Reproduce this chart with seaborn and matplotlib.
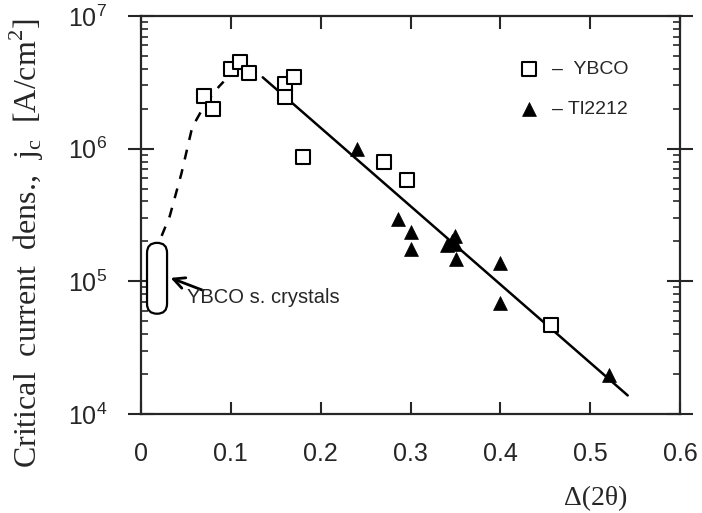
import matplotlib
matplotlib.use("Agg")
import matplotlib.pyplot as plt
import matplotlib.ticker as mticker
from matplotlib.patches import FancyBboxPatch
import seaborn as sns
import pandas as pd

# YBCO films (open squares)
ybco_dtheta = [0.070, 0.080, 0.100, 0.110, 0.120, 0.160, 0.170, 0.160, 0.180, 0.270, 0.296, 0.456]
ybco_jc = [2.5e6, 2.0e6, 4.0e6, 4.5e6, 3.7e6, 3.05e6, 3.45e6, 2.45e6, 8.6e5, 8.0e5, 5.8e5, 4.7e4]

# Tl2212 films (filled triangles)
tl_dtheta = [0.240, 0.286, 0.300, 0.300, 0.341, 0.346, 0.350, 0.350, 0.351, 0.400, 0.400, 0.521]
tl_jc = [1.0e6, 2.95e5, 2.35e5, 1.75e5, 1.88e5, 2.0e5, 2.2e5, 1.9e5, 1.48e5, 1.38e5, 6.9e4, 1.97e4]

# solid fit line and dashed guide to the eye
fit_dtheta = [0.1355, 0.5418]
fit_jc = [3.45e6, 1.38e4]
guide_dtheta = [0.023, 0.032, 0.045, 0.057, 0.072, 0.087, 0.092]
guide_jc = [2.2e5, 3.1e5, 6.5e5, 1.45e6, 2.2e6, 2.95e6, 3.2e6]

# single crystal range
sc_dtheta = [0.0067, 0.029]
sc_jc = [5.7e4, 1.95e5]

xticks = [0, 0.1, 0.2, 0.3, 0.4, 0.5, 0.6]
xtick_labels = ["0", "0.1", "0.2", "0.3", "0.4", "0.5", "0.6"]

sns.set_style("ticks")
plt.rcParams["font.family"] = ["Liberation Sans", "DejaVu Sans"]
serif = ["Liberation Serif", "DejaVu Serif"]

fig = plt.figure(figsize=(7.02, 5.13), dpi=100)
ax = fig.add_axes([141 / 702, 1 - 414 / 513, 539 / 702, 398 / 513])

ybco = pd.DataFrame({"dtheta": ybco_dtheta, "jc": ybco_jc})
tl = pd.DataFrame({"dtheta": tl_dtheta, "jc": tl_jc})

sns.lineplot(x=fit_dtheta, y=fit_jc, ax=ax, color="black", linewidth=1.8, zorder=2)
sns.lineplot(x=guide_dtheta, y=guide_jc, ax=ax, color="black", linewidth=1.8,
             linestyle=(0, (4, 4)), sort=False, zorder=2)
sns.scatterplot(data=ybco, x="dtheta", y="jc", ax=ax, marker="s", s=88,
                color="black", facecolor="white", edgecolor="black", linewidth=1.5,
                label="–  YBCO", zorder=3)
sns.scatterplot(data=tl, x="dtheta", y="jc", ax=ax, marker="^", s=100,
                color="black", edgecolor="black", linewidth=0.5,
                label="– Tl2212", zorder=3)

ax.set_yscale("log")
ax.set_xlim(0, 0.6)
ax.set_ylim(1e4, 1e7)
ax.set_xticks(xticks)
ax.set_xticklabels(xtick_labels)
ax.yaxis.set_major_locator(mticker.LogLocator(base=10, numticks=10))
ax.yaxis.set_minor_locator(mticker.LogLocator(base=10, subs=range(2, 10), numticks=10))
ax.yaxis.set_minor_formatter(mticker.NullFormatter())

for side in ["left", "right", "top", "bottom"]:
    ax.spines[side].set_linewidth(1.6)
ax.tick_params(axis="x", which="major", direction="in", top=True, length=9, width=1.5,
               labelsize=18, pad=20)
ax.tick_params(axis="y", which="major", direction="inout", left=True, right=True,
               length=19, width=1.5, labelsize=18, pad=15)
ax.tick_params(axis="y", which="minor", direction="in", left=True, right=True,
               length=5, width=1.2)

ax.set_xlabel("Δ(2θ)", family=serif, fontsize=20)
ax.xaxis.set_label_coords(0.844, -0.181)
ax.set_ylabel("Critical  current  dens.,  j$_\\mathregular{c}$  [A/cm$^\\mathregular{2}$]",
              family=serif, fontsize=23)
ax.yaxis.set_label_coords(-0.176, 0.43)

# rounded capsule for the single crystal range
to_axes = ax.transScale + ax.transLimits
(x0, y0), (x1, y1) = to_axes.transform(list(zip(sc_dtheta, sc_jc)))
ax_w = 539.0
ax_h = 398.0
r = (x1 - x0) / 2
capsule = FancyBboxPatch((x0, y0), x1 - x0, y1 - y0,
                         boxstyle=f"round,pad=0,rounding_size={r}",
                         mutation_aspect=ax_w / ax_h,
                         transform=ax.transAxes, facecolor="white",
                         edgecolor="black", linewidth=1.6, zorder=4)
ax.add_patch(capsule)

ax.annotate("", xy=(0.030, 1.08e5), xytext=(0.072, 8.4e4),
            arrowprops=dict(arrowstyle="->,head_length=0.8,head_width=0.4",
                            color="black", lw=2))
ax.text(0.051, 7.6e4, "YBCO s. crystals", fontsize=14.5, va="center", ha="left")

leg = ax.legend(loc="upper left", bbox_to_anchor=(0.683, 0.9125), frameon=False,
                fontsize=14, handlelength=1.0, handletextpad=0.7,
                labelspacing=1.15, borderpad=0)

fig.savefig("out.png", dpi=100)
